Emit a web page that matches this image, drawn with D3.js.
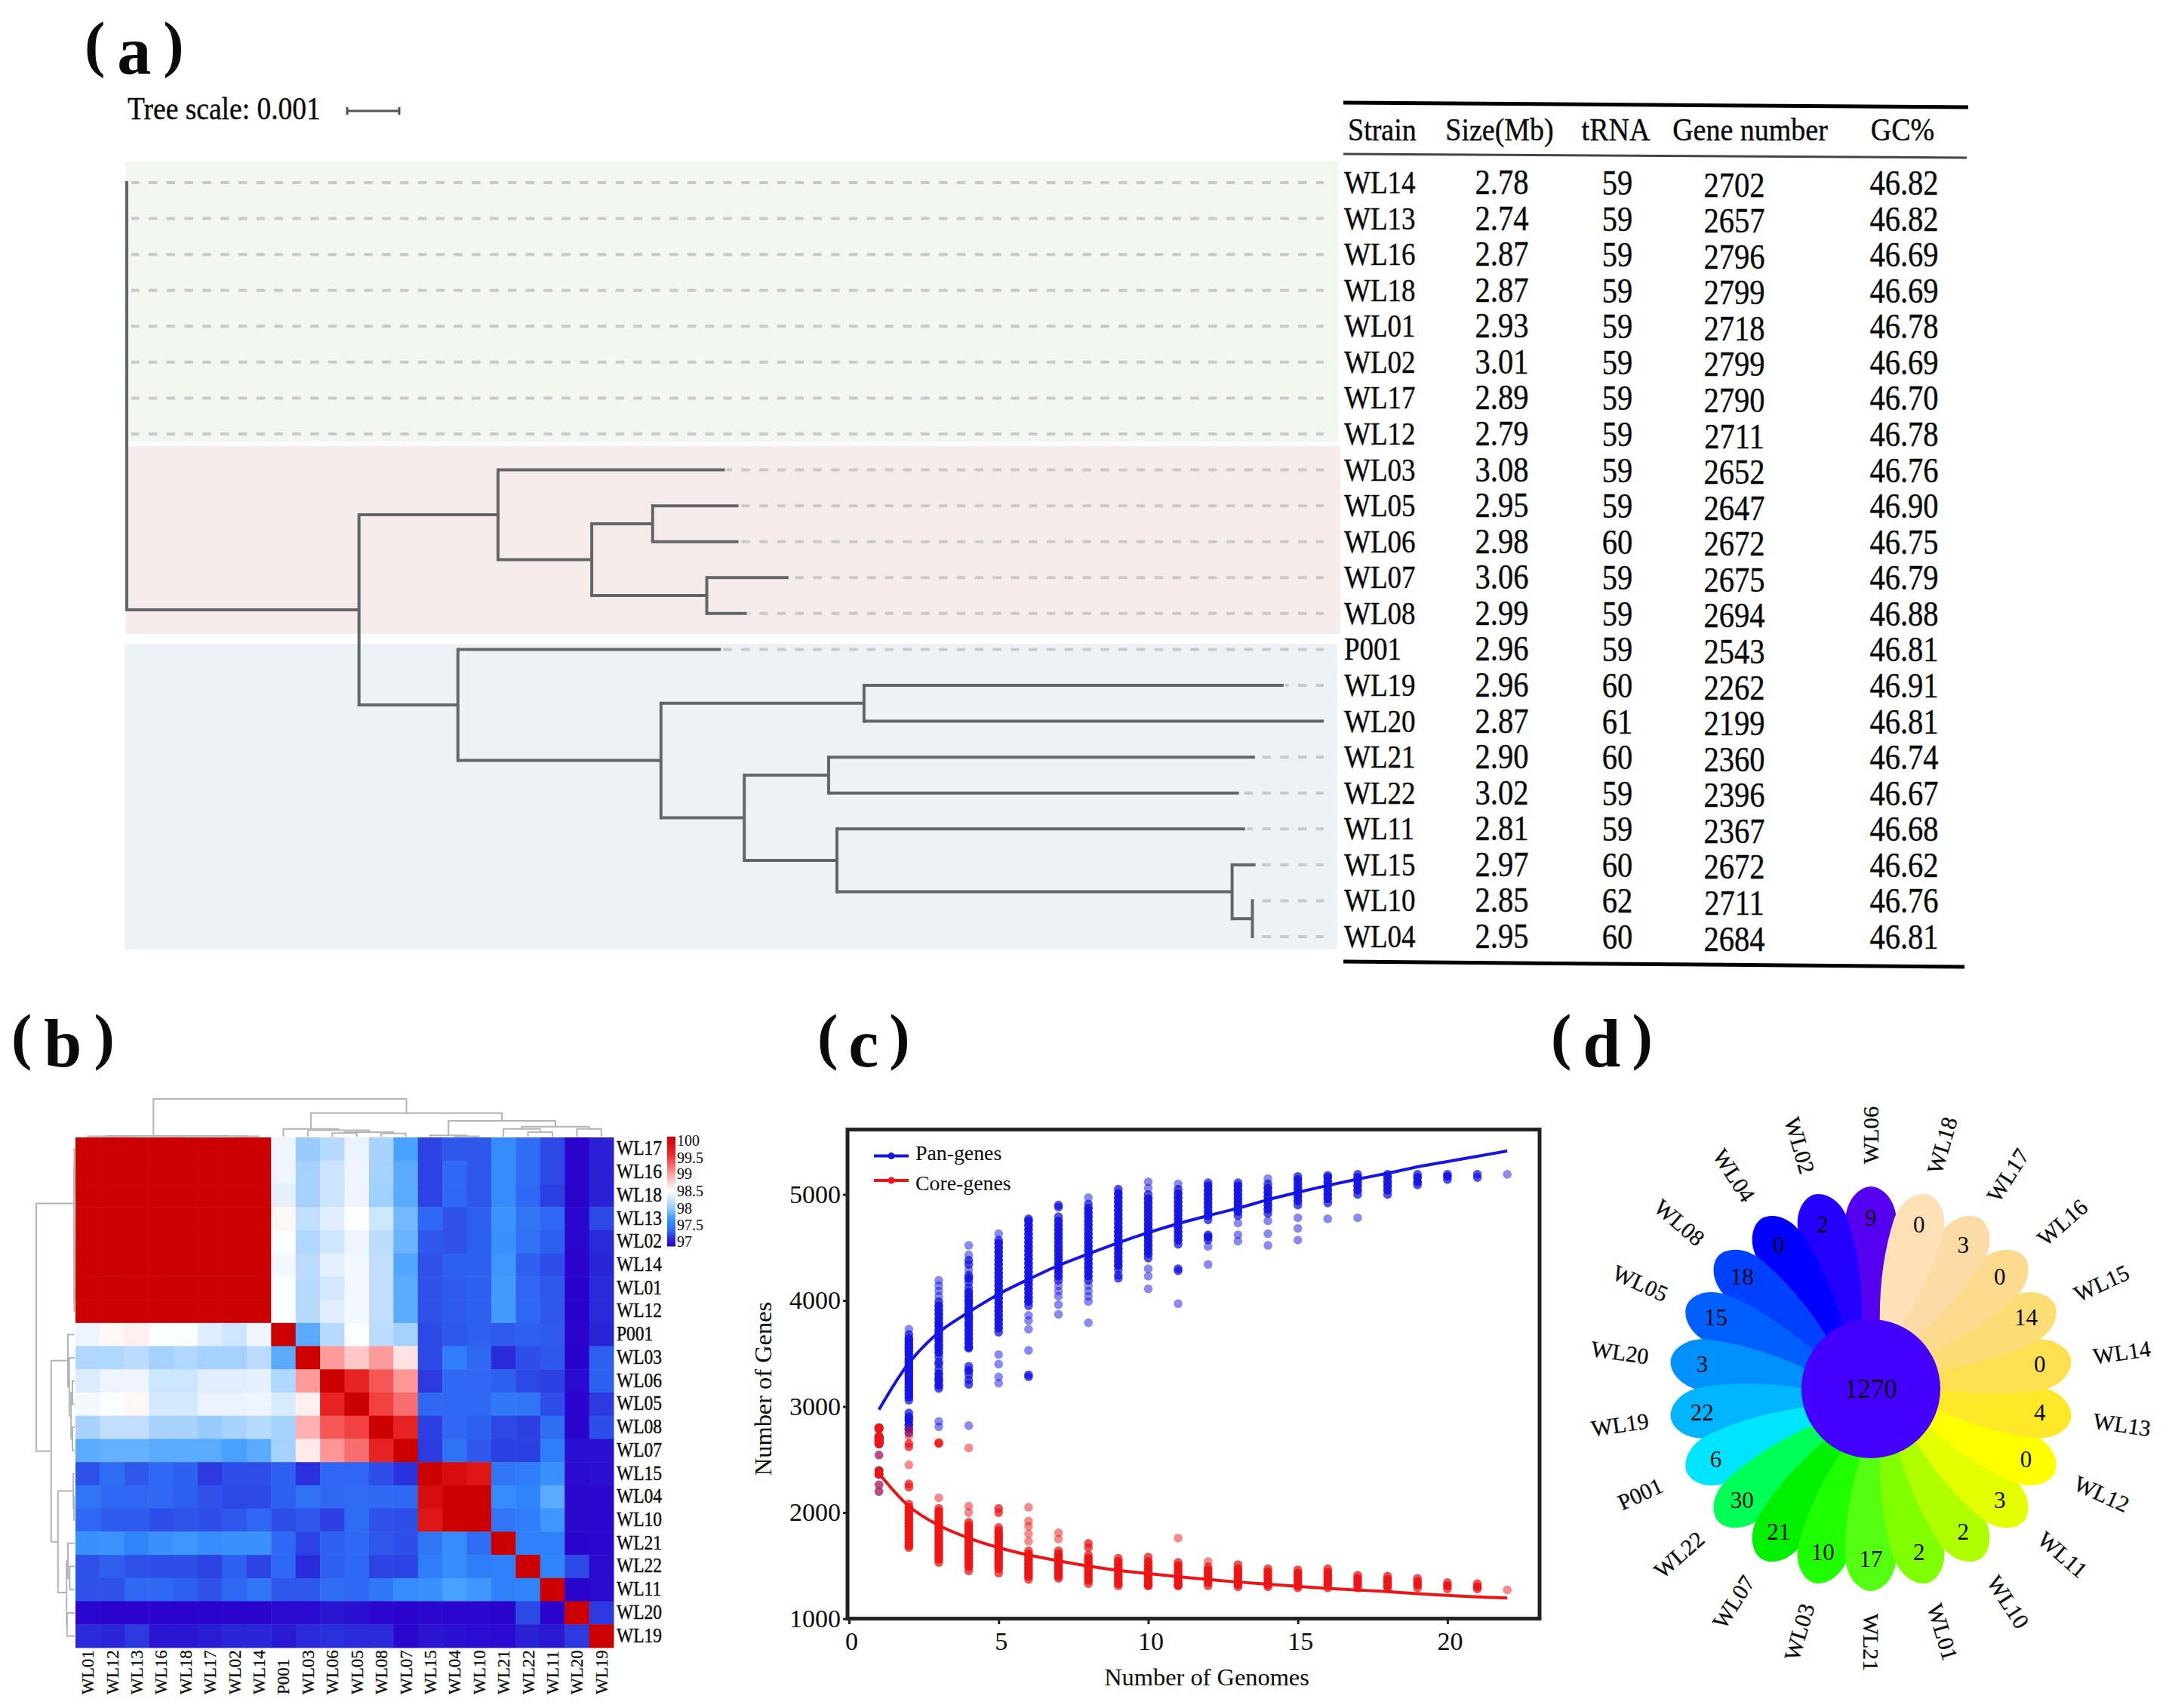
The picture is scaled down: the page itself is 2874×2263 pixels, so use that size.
<!DOCTYPE html>
<html><head><meta charset="utf-8">
<script src="https://cdnjs.cloudflare.com/ajax/libs/d3/7.8.5/d3.min.js"></script>
<style>html,body{margin:0;padding:0;background:#fff}svg{display:block}text{font-family:"Liberation Serif",serif;fill:#0a0a0a}</style>
</head><body><svg id="c" width="2874" height="2263" viewBox="0 0 2874 2263"></svg>
<script>
// ---- Panel a: table ----
const strains=["WL14","WL13","WL16","WL18","WL01","WL02","WL17","WL12","WL03","WL05","WL06","WL07","WL08","P001","WL19","WL20","WL21","WL22","WL11","WL15","WL10","WL04"];
const sizes=["2.78","2.74","2.87","2.87","2.93","3.01","2.89","2.79","3.08","2.95","2.98","3.06","2.99","2.96","2.96","2.87","2.90","3.02","2.81","2.97","2.85","2.95"];
const tRNA=[59,59,59,59,59,59,59,59,59,59,60,59,59,59,60,61,60,59,59,60,62,60];
const geneNumber=[2702,2657,2796,2799,2718,2799,2790,2711,2652,2647,2672,2675,2694,2543,2262,2199,2360,2396,2367,2672,2711,2684];
const gcPercent=["46.82","46.82","46.69","46.69","46.78","46.69","46.70","46.78","46.76","46.90","46.75","46.79","46.88","46.81","46.91","46.81","46.74","46.67","46.68","46.62","46.76","46.81"];
const tableHeaders=["Strain","Size(Mb)","tRNA","Gene number","GC%"];
// ---- Panel a: tree, distances in units of the 0.001 tree scale ----
const treeNodes=["root","A","B","D","E","F","C","G","H","I","J","K","L","M",...strains];
const treeParents=[null,"root","A","B","D","D","A","C","G","G","I","I","K","L",
 "root","root","root","root","root","root","root","root","B","E","E","F","F","C","H","H","J","J","K","L","M","M"];
const treeDist=[0,4.46,7.13,8.93,10.10,11.14,6.36,10.26,14.16,11.86,13.48,13.64,21.23,21.62,
 0,0,0,0,0,0,0,0,11.49,11.75,11.75,12.71,11.91,11.41,22.22,22.99,21.67,21.36,21.48,21.68,21.62,21.62];
// ---- Panel b ----
const heatCols=["WL01","WL12","WL13","WL16","WL18","WL17","WL02","WL14","P001","WL03","WL06","WL05","WL08","WL07","WL15","WL04","WL10","WL21","WL22","WL11","WL20","WL19"];
const heatRowNames=["WL17","WL16","WL18","WL13","WL02","WL14","WL01","WL12","P001","WL03","WL06","WL05","WL08","WL07","WL15","WL04","WL10","WL21","WL22","WL11","WL20","WL19"];
const heatValues=[
[100,100,100,100,100,100,100,100,98.42,98.05,98.18,98.4,98.12,97.8,97.28,97.35,97.35,97.65,97.45,97.3,97.02,97.15],
[100,100,100,100,100,100,100,100,98.42,98.1,98.27,98.42,98.1,97.85,97.28,97.42,97.35,97.65,97.45,97.3,97.02,97.15],
[100,100,100,100,100,100,100,100,98.38,98.1,98.27,98.42,98.08,97.85,97.28,97.42,97.35,97.65,97.42,97.27,97.02,97.15],
[100,100,100,100,100,100,100,100,98.55,98.22,98.36,98.48,98.28,97.92,97.42,97.33,97.38,97.7,97.5,97.42,97.03,97.3],
[100,100,100,100,100,100,100,100,98.48,98.15,98.28,98.42,98.2,97.9,97.35,97.33,97.38,97.68,97.48,97.38,97.03,97.2],
[100,100,100,100,100,100,100,100,98.44,98.2,98.38,98.44,98.22,97.82,97.33,97.38,97.38,97.72,97.38,97.32,97.02,97.18],
[100,100,100,100,100,100,100,100,98.48,98.18,98.3,98.44,98.22,97.85,97.33,97.36,97.38,97.75,97.4,97.35,97.01,97.2],
[100,100,100,100,100,100,100,100,98.48,98.18,98.36,98.44,98.22,97.85,97.33,97.36,97.38,97.75,97.42,97.35,97.01,97.2],
[98.42,98.55,98.58,98.48,98.48,98.35,98.28,98.42,100,97.85,98.18,98.48,98.2,98.1,97.3,97.35,97.38,97.36,97.38,97.36,97.02,97.16],
[98.15,98.15,98.2,98.1,98.15,98.1,98.1,98.2,97.85,100,99,98.8,99,98.65,97.3,97.55,97.42,97.2,97.32,97.35,97.01,97.38],
[98.34,98.42,98.42,98.28,98.28,98.36,98.36,98.38,98.15,99,100,99.6,99.3,99.02,97.25,97.42,97.4,97.38,97.3,97.27,97.05,97.38],
[98.45,98.48,98.55,98.3,98.3,98.4,98.4,98.42,98.32,98.58,99.6,100,99.4,99.2,97.42,97.42,97.42,97.52,97.5,97.32,97.02,97.25],
[98.12,98.22,98.22,98.12,98.12,98.05,98.12,98.18,98.12,98.9,99.3,99.4,100,99.6,97.27,97.4,97.38,97.3,97.27,97.45,97.02,97.32],
[97.85,97.88,97.88,97.85,97.85,97.85,97.78,97.85,98.1,98.62,99.02,99.2,99.6,100,97.25,97.48,97.35,97.27,97.27,97.55,97.08,97.08],
[97.33,97.45,97.35,97.42,97.38,97.25,97.32,97.32,97.38,97.22,97.4,97.4,97.32,97.22,100,99.85,99.75,97.5,97.55,97.68,97.05,97.08],
[97.5,97.42,97.4,97.4,97.38,97.33,97.3,97.3,97.38,97.48,97.4,97.43,97.42,97.42,99.85,100,100,97.65,97.6,97.85,97.04,97.03],
[97.42,97.36,97.36,97.32,97.34,97.32,97.35,97.4,97.32,97.35,97.27,97.45,97.33,97.32,99.75,100,100,97.5,97.55,97.72,97.04,97.03],
[97.68,97.7,97.6,97.68,97.72,97.66,97.68,97.68,97.42,97.28,97.38,97.42,97.35,97.32,97.5,97.65,97.45,100,97.58,97.58,97.02,97.03],
[97.33,97.38,97.33,97.32,97.32,97.28,97.38,97.28,97.42,97.2,97.38,97.42,97.28,97.28,97.55,97.65,97.55,97.58,100,97.6,97.3,97.05],
[97.33,97.33,97.42,97.42,97.38,97.33,97.42,97.5,97.35,97.35,97.45,97.42,97.52,97.65,97.68,97.8,97.72,97.58,97.6,100,97.02,97.05],
[97.03,97.02,97.02,97.02,97.02,97.02,97.02,97.02,97.05,97.05,97.1,97.08,97.03,97.02,97.04,97.03,97.03,97.02,97.3,97.02,100,97.25],
[97.2,97.18,97.25,97.1,97.1,97.13,97.18,97.18,97.12,97.2,97.22,97.2,97.2,97.03,97.1,97.08,97.06,97.05,97.15,97.12,97.25,100]];
const heatStops=[97,97.2,97.4,97.6,97.8,98,98.2,98.4,98.5,98.8,99,99.5,100];
const heatColors=["#2a00cc","#2a2ad8","#2f66f2","#2f84fa","#4aa2ff","#8cc6ff","#bcdcff","#eaf3ff","#ffffff","#ffc8c8","#ff9a9a","#ee2a2a","#cc0000"];
const heatLegendTicks=["100","99.5","99","98.5","98","97.5","97"];
// dendrograms: [height, left, right], leaves are column/row indices
const dendroTopTree=[83,[1.5,[1,0,[1,1,2]],[1.5,[1,3,4],[1.2,5,[1,6,7]]]],[52,[17,8,[14,9,[10,[8,10,11],[7,12,13]]]],[35,[3,14,[1,15,16]],[22,[17,17,[10,18,19]],[17,20,21]]]]];
const dendroLeftTree=[85,[1.5,[1,0,[1,1,2]],[1.5,3,[1.2,4,[1,5,[1,6,7]]]]],[52,[15,8,[12,9,[8,[5,10,11],[5,12,13]]]],[37,[3,14,[1.5,15,16]],[18,[15,17,[11,18,19]],[17,20,21]]]]];
// ---- Panel c ----
const panGenes=[geneNumber,
[2750,2790,2830,2870,2900,2940,3060,3090,3120,3150,3180,3210,3240,3270,3300,3330,3360,3390,3420,3450,3490,3520,3550,3580,3610,3640,3680,3730],
[2810,2860,3170,3200,3240,3270,3310,3350,3400,3420,3470,3510,3550,3580,3620,3650,3690,3720,3760,3790,3830,3870,3910,3950,3990,4040,4090,4140,4190],
[2820,3210,3250,3300,3340,3380,3550,3560,3600,3640,3680,3720,3760,3790,3830,3860,3900,3930,3970,4000,4040,4080,4120,4170,4210,4240,4290,4340,4380,4430,4520],
[3220,3280,3400,3490,3700,3740,3780,3820,3860,3900,3940,3980,4020,4060,4100,4140,4180,4220,4260,4300,4340,4380,4420,4460,4500,4540,4570,4630],
[3280,3300,3530,3730,3810,3860,3950,3990,4030,4070,4110,4150,4190,4230,4270,4310,4350,4390,4430,4470,4510,4550,4590,4630,4670,4710,4750,4770],
[3870,3960,4040,4090,4140,4190,4230,4270,4310,4350,4390,4430,4470,4510,4550,4590,4630,4670,4710,4750,4790,4880,4900],
[3790,3990,4040,4090,4140,4190,4230,4270,4310,4350,4390,4430,4470,4510,4550,4590,4630,4670,4710,4750,4790,4830,4870,4910,4970],
[4210,4240,4290,4330,4370,4410,4450,4490,4530,4570,4610,4650,4690,4730,4770,4810,4850,4890,4930,4970,5010,5050],
[4110,4230,4300,4400,4440,4480,4520,4560,4600,4640,4680,4720,4760,4800,4840,4880,4920,4960,5000,5060,5120],
[3970,4280,4300,4530,4570,4610,4650,4690,4730,4770,4810,4850,4890,4930,4970,5010,5050,5100],
[4340,4510,4570,4600,4620,4760,4800,4840,4880,4920,4960,5000,5040,5080,5110],
[4560,4620,4730,4800,4840,4880,4920,4960,5000,5040,5080,5110],
[4520,4630,4750,4820,4860,4900,4940,4980,5020,5060,5100,5150],
[4570,4680,4780,4900,4940,4980,5020,5060,5100,5140,5170],
[4770,4920,4960,5000,5040,5080,5120,5160,5180],
[4780,5000,5040,5080,5120,5160,5190],
[5000,5040,5080,5120,5160,5190],
[5090,5120,5160,5190],
[5140,5170,5190],
[5160,5190],
[5190]];
const coreGenes=[geneNumber,
[2780,2720,2650,2620,2450,2270,2240,2080,2050,2020,1990,1960,1930,1900,1870,1840,1810,1780,1750,1720,1690,1670],
[2660,2650,2140,2040,2010,1980,1950,1920,1890,1860,1830,1800,1770,1740,1710,1680,1650,1620,1590,1560,1530],
[2610,2060,2000,1910,1880,1850,1820,1790,1760,1730,1700,1670,1640,1610,1580,1550,1520,1490,1450],
[2040,2000,1860,1830,1800,1770,1740,1710,1680,1650,1620,1590,1560,1530,1500,1470,1430],
[2050,1920,1870,1800,1730,1640,1610,1580,1550,1520,1490,1460,1430,1400,1370],
[1810,1750,1640,1610,1580,1550,1520,1490,1460,1430,1400,1380],
[1710,1670,1600,1570,1540,1510,1480,1450,1420,1390,1360,1330],
[1570,1540,1510,1480,1450,1420,1390,1360,1330,1310],
[1580,1540,1500,1470,1440,1410,1380,1350,1320,1310],
[1760,1530,1500,1470,1440,1410,1380,1350,1320,1310],
[1540,1490,1460,1430,1400,1370,1340,1310],
[1510,1470,1440,1410,1380,1350,1320,1300],
[1470,1440,1410,1380,1350,1320,1300],
[1460,1430,1400,1370,1340,1310,1290],
[1470,1440,1410,1380,1350,1320,1290],
[1410,1380,1350,1320,1290],
[1400,1370,1340,1310,1290],
[1380,1350,1320,1290],
[1340,1310,1280],
[1330,1300,1280],
[1270]];
const panCurve=[2970,3410,3700,3890,4060,4200,4330,4440,4545,4640,4725,4800,4870,4950,5020,5085,5145,5200,5260,5310,5360,5410];
const coreCurve=[2370,2060,1880,1760,1670,1600,1545,1495,1455,1425,1395,1370,1345,1325,1305,1285,1270,1255,1235,1220,1205,1195];
const genomeCounts=d3.range(1,23);
const xTicksC=[0,5,10,15,20];
const yTicksC=[1000,2000,3000,4000,5000];
// ---- Panel d ----
const petalNames=["WL06","WL18","WL17","WL16","WL15","WL14","WL13","WL12","WL11","WL10","WL01","WL21","WL03","WL07","WL22","P001","WL19","WL20","WL05","WL08","WL04","WL02"];
const petalValues=[9,0,3,0,14,0,4,0,3,2,2,17,10,21,30,6,22,3,15,18,0,2];
const petalColors=["#5500ee","#fee0b6","#fddba4","#fddb8e","#fcdc74","#fde050","#fee828","#ffff00","#e4ff00","#b0ff00","#80ff00","#55ff10","#1eff00","#00f000","#00ff55","#00e5ff","#00b4ff","#0090ff","#0060ff","#0040ff","#0000ff","#2200ff"];
const coreCount=1270;

const svg=d3.select("#c");
svg.append("rect").attr("width",2874).attr("height",2263).attr("fill","#fff");
const T=(g,x,y,s,size,anchor)=>g.append("text").attr("x",x).attr("y",y).attr("font-size",size).attr("text-anchor",anchor||"start").text(s);
// text stretched vertically, as the reference table is
const TS=(g,x,y,s,size,anchor)=>g.append("text").attr("transform",`translate(${x},${y}) scale(1,1.13)`).attr("font-size",size).attr("text-anchor",anchor||"start").attr("stroke","#0a0a0a").attr("stroke-width",.35).text(s);

// panel labels
[["a",112,98],["b",15,1413],["c",1083,1413],["d",2055,1413]].forEach(([s,x,y])=>{
  const t=svg.append("text").attr("x",x).attr("y",y).attr("font-size",90).attr("font-weight","bold").attr("letter-spacing",s==="c"?14:s==="d"?15:16);
  t.append("tspan").attr("dy",-12).attr("font-size",82).text("(");
  t.append("tspan").attr("dy",12).text(s);
  t.append("tspan").attr("dy",-12).attr("font-size",82).text(")");
});

// ---- tree ----
const gA=svg.append("g");
[[167,214,1606,371,"#f4f7f0"],[167,591,1609,249,"#f7ecec"],[165,853,1607,405,"#edf2f6"]].forEach(b=>gA.append("rect").attr("x",b[0]).attr("y",b[1]).attr("width",b[2]).attr("height",b[3]).attr("fill",b[4]));
TS(gA,169,158,"Tree scale: 0.001",37.5);
const xTree=d3.scaleLinear().domain([0,22.99]).range([168,1754]);
const yRow=d3.scalePoint().domain(strains).range([242,1241]);
const root=d3.stratify().id((d,i)=>treeNodes[i]).parentId((d,i)=>treeParents[i])(treeDist.map(d=>({d})));
root.eachAfter(n=>{n.px=xTree(n.data.d);
  if(!n.children){n.py=yRow(n.id);}
  else if(n.id==="root"){n.py=0;}
  else{n.py=(n.children[0].py+n.children[n.children.length-1].py)/2;}
});
root.leaves().forEach(l=>{
  if(l.px<1750){const s=l.px+(l.px>168?2:6);
   gA.append("line").attr("x1",s).attr("x2",1754).attr("y1",l.py).attr("y2",l.py)
   .attr("stroke","#c9c9c9").attr("stroke-width",4).attr("stroke-dasharray","11.5 12.3")
   .attr("stroke-dashoffset",s-173);}
});
const tc="#636669";
root.descendants().forEach(n=>{
  if(n.children){
    const ys=n.children.map(c=>c.py);
    gA.append("line").attr("x1",n.px).attr("x2",n.px).attr("y1",d3.min(ys)-2).attr("y2",d3.max(ys)+2).attr("stroke",tc).attr("stroke-width",4);
    n.children.forEach(c=>{ if(c.px>n.px) gA.append("line").attr("x1",n.px).attr("x2",c.px).attr("y1",c.py).attr("y2",c.py).attr("stroke",tc).attr("stroke-width",4);});
  }
});
const sb=gA.append("g").attr("stroke","#555").attr("stroke-width",3);
const sbX0=460,sbX1=sbX0+(xTree(1)-xTree(0));
sb.append("line").attr("x1",sbX0).attr("x2",sbX1).attr("y1",147).attr("y2",147);
[sbX0,sbX1].forEach(x=>sb.append("line").attr("x1",x).attr("x2",x).attr("y1",142).attr("y2",152));

// ---- table ----
const gT=svg.append("g");
[[1780,136,2608,142,5,"#000"],[1780,204,2606,209,3,"#444"],[1780,1274,2603,1281,5,"#000"]].forEach(l=>gT.append("line").attr("x1",l[0]).attr("y1",l[1]).attr("x2",l[2]).attr("y2",l[3]).attr("stroke",l[5]).attr("stroke-width",l[4]));
const hdrX=[[1786,"start"],[1987,"middle"],[2141,"middle"],[2319,"middle"],[2521,"middle"]];
tableHeaders.forEach((h,i)=>TS(gT,hdrX[i][0],186,h,38,hdrX[i][1]));
const cols=[[strains,1781,0,"start",37],[sizes,1990,1,"middle",40.5],[tRNA,2143,2,"middle",40.5],[geneNumber,2298,4.5,"middle",40.5],[gcPercent,2523,2,"middle",40.5]];
cols.forEach(c=>c[0].forEach((v,i)=>TS(gT,c[1],yRow(strains[i])+14+c[2],v,c[4],c[3])));

// ---- heatmap ----
const gB=svg.append("g");
const xH=d3.scaleBand().domain(d3.range(22)).range([100,813]);
const yH=d3.scaleBand().domain(d3.range(22)).range([1507,2183]);
const cH=d3.scaleLinear().domain(heatStops).range(heatColors);
heatValues.forEach((row,r)=>row.forEach((v,c)=>gB.append("rect").attr("x",xH(c)).attr("y",yH(r)).attr("width",xH.bandwidth()+.5).attr("height",yH.bandwidth()+.5).attr("fill",cH(v))));
heatRowNames.forEach((s,i)=>TS(gB,817,yH(i)+yH.bandwidth()/2+8,s,23.5));
heatCols.forEach((s,i)=>gB.append("text").attr("transform",`translate(${xH(i)+xH.bandwidth()/2+8},2245) rotate(-90)`).attr("font-size",23).attr("stroke","#0a0a0a").attr("stroke-width",.25).text(s));
const legY=d3.scaleLinear().domain([97,100]).range([1650,1506]);
d3.range(0,145).forEach(i=>{gB.append("rect").attr("x",884).attr("y",1506+i).attr("width",11).attr("height",1.5).attr("fill",cH(legY.invert(1506+i)));});
const legYlab=[1512,1535,1556,1579,1602,1624,1646];
heatLegendTicks.forEach((s,i)=>T(gB,897,legYlab[i]+6,s,20));
function dendro(tree,pos,draw){
  if(typeof tree==="number")return {p:pos(tree),h:0};
  const a=dendro(tree[1],pos,draw),b=dendro(tree[2],pos,draw);
  draw(a,b,tree[0]);
  return {p:(a.p+b.p)/2,h:tree[0]};
}
const hTop=d3.scaleLinear().domain([0,83]).range([1506,1456]);
const hLeft=d3.scaleLinear().domain([0,85]).range([99,48]);
const pathD=svg.append("g").attr("fill","none").attr("stroke","#b4b4b4").attr("stroke-width",2);
dendro(dendroTopTree,i=>xH(i)+xH.bandwidth()/2,(a,b,h)=>{
  pathD.append("path").attr("d",`M${a.p},${hTop(a.h)}V${hTop(h)}H${b.p}V${hTop(b.h)}`);
});
dendro(dendroLeftTree,i=>yH(i)+yH.bandwidth()/2,(a,b,h)=>{
  pathD.append("path").attr("d",`M${hLeft(a.h)},${a.p}H${hLeft(h)}V${b.p}H${hLeft(b.h)}`);
});

// ---- pan/core ----
const gC=svg.append("g");
const xC=d3.scaleLinear().domain([0,23.08]).range([1125,2040]);
const yC=d3.scaleLinear().domain([1000,5612]).range([2144.6,1496.6]);
const blue="#1414e6",red="#ee1414";
const dots=(lists,col)=>lists.forEach((vals,i)=>gC.selectAll(null).data(vals).join("circle")
  .attr("cx",xC(genomeCounts[i])).attr("cy",d=>yC(d)).attr("r",5.8).attr("fill",col)
  .attr("opacity",d=>{const n=vals.filter(v=>Math.abs(v-d)<48).length;return n>=3?.95:n===2?.75:.5;}));
dots(panGenes,blue);dots(coreGenes,red);
const lineC=d3.line().x((d,i)=>xC(genomeCounts[i])).y(d=>yC(d)).curve(d3.curveCatmullRom);
gC.append("path").attr("d",lineC(panCurve)).attr("fill","none").attr("stroke",blue).attr("stroke-width",4);
gC.append("path").attr("d",lineC(coreCurve)).attr("fill","none").attr("stroke",red).attr("stroke-width",4);
gC.append("rect").attr("x",1123).attr("y",1496.6).attr("width",917).attr("height",648).attr("fill","none").attr("stroke","#222").attr("stroke-width",5);
const axX=gC.append("g").attr("transform","translate(0,2146)").call(d3.axisBottom(xC).tickValues(xTicksC).tickFormat(d3.format("d")).tickSize(6).tickSizeOuter(0).tickPadding(10));
const axY=gC.append("g").attr("transform","translate(1123,0)").call(d3.axisLeft(yC).tickValues(yTicksC).tickFormat(d3.format("d")).tickSize(6).tickSizeOuter(0).tickPadding(3));
[axX,axY].forEach(a=>{a.select(".domain").remove();a.selectAll(".tick line").attr("stroke","#222").attr("stroke-width",3);a.selectAll("text").attr("font-size",34).attr("font-family",'"Liberation Serif"').attr("fill","#111");});
axX.selectAll("text").attr("dx",3);
T(gC,1599,2233,"Number of Genomes",32.4,"middle");
gC.append("text").attr("transform","translate(1022,1840) rotate(-90)").attr("font-size",32.4).attr("text-anchor","middle").text("Number of Genes");
[[1531.6,blue,"Pan-genes",1537],[1564,red,"Core-genes",1577]].forEach(([y,col,s,ty])=>{
  gC.append("line").attr("x1",1158).attr("x2",1204).attr("y1",y).attr("y2",y).attr("stroke",col).attr("stroke-width",4);
  gC.append("circle").attr("cx",1181).attr("cy",y).attr("r",4.5).attr("fill",col);
  T(gC,1213,ty,s,27.8);
});

// ---- flower ----
const gD=svg.append("g").attr("transform","translate(2479,1840)");
const angle=d3.scaleLinear().domain([0,22]).range([0,360]);
const rad=a=>(a-90)*Math.PI/180;
const petal="M0,-50C-24,-110 -35,-170 -34,-222C-33,-252 -14,-268 0,-268C14,-268 33,-252 34,-222C35,-170 24,-110 0,-50Z";
const drawOrder=[0].concat(d3.range(21,0,-1));
drawOrder.forEach(i=>gD.append("path").attr("d",petal).attr("transform",`rotate(${angle(i)})`).attr("fill",petalColors[i]));
gD.append("circle").attr("r",92).attr("fill","#4400ff");
T(gD,0,12,coreCount,35,"middle");
petalValues.forEach((v,i)=>{const a=rad(angle(i));T(gD,226*Math.cos(a),226*Math.sin(a)+10,v,31,"middle");});
petalNames.forEach((s,i)=>{const d=angle(i),a=rad(d),r=336;
  const rr=d===0?-90:(d>180?d+90-360:d-90);
  gD.append("text").attr("transform",`translate(${r*Math.cos(a)},${r*Math.sin(a)}) rotate(${rr})`).attr("dy",10).attr("text-anchor","middle").attr("font-size",30).attr("stroke","#0a0a0a").attr("stroke-width",.3).text(s);
});
</script></body></html>
